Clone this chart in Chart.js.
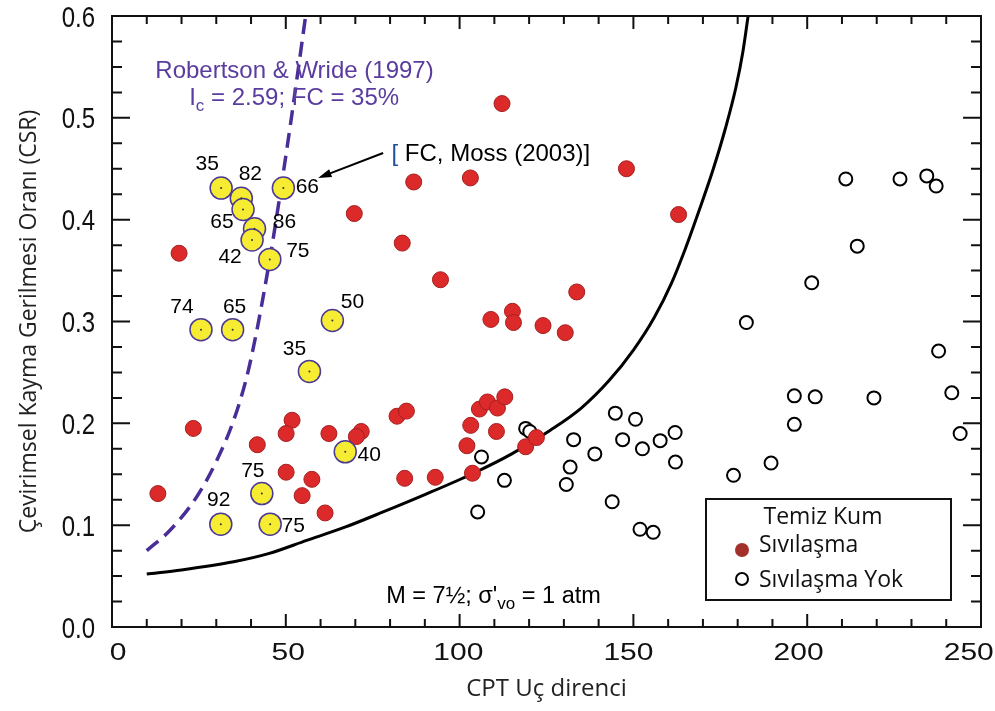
<!DOCTYPE html>
<html>
<head>
<meta charset="utf-8">
<script src="https://cdn.jsdelivr.net/npm/chart.js@4.4.1/dist/chart.umd.min.js"></script>
<style>
  html, body { margin: 0; padding: 0; background: #fff; }
</style>
</head>
<body>
<canvas id="csrChart" width="995" height="711"></canvas>
<script>
// clean sand boundary curve
const boundaryQ   = [10, 20, 35, 45, 56, 67, 78, 90, 104, 115, 126, 135, 143, 150, 156, 161, 165, 169, 173, 176.5, 179.5, 181.5, 183];
const boundaryCSR = [0.052, 0.056, 0.064, 0.072, 0.085, 0.098, 0.113, 0.130, 0.151, 0.170, 0.193, 0.215, 0.242, 0.272, 0.304, 0.338, 0.372, 0.410, 0.450, 0.490, 0.530, 0.565, 0.600];

// Robertson & Wride (1997), Ic = 2.59 dashed curve
const rwQ   = [10, 16.7, 24.4, 30.2, 35.0, 38.8, 41.6, 44.0, 46.4, 48.8, 51.4, 54.0, 55.7];
const rwCSR = [0.075, 0.095, 0.128, 0.164, 0.203, 0.246, 0.290, 0.334, 0.382, 0.435, 0.495, 0.558, 0.600];

// Sıvılaşma (liquefaction) points [qc, CSR]
const liquefied = [
  [112.2, 0.514], [86.8, 0.437], [103.1, 0.441], [69.7, 0.406], [83.5, 0.377], [94.5, 0.341],
  [19.3, 0.367], [148.0, 0.450], [163.0, 0.405], [133.7, 0.329], [115.2, 0.310], [109.0, 0.302],
  [115.5, 0.299], [124.0, 0.296], [130.4, 0.289], [82.0, 0.207], [84.7, 0.212], [84.2, 0.146],
  [93.0, 0.147], [103.7, 0.151], [102.1, 0.178], [103.2, 0.198], [105.7, 0.214], [108.0, 0.221],
  [110.9, 0.215], [113.0, 0.226], [110.6, 0.192], [119.0, 0.177], [122.1, 0.186], [23.4, 0.195],
  [13.2, 0.131], [41.8, 0.179], [51.8, 0.203], [50.1, 0.190], [62.4, 0.190], [71.7, 0.192],
  [70.3, 0.187], [50.1, 0.152], [57.5, 0.145], [54.7, 0.129], [61.3, 0.112]
];

// Sıvılaşma Yok (no liquefaction) points [qc, CSR]
const notLiquefied = [
  [211.1, 0.440], [226.7, 0.440], [234.4, 0.443], [237.1, 0.433], [214.4, 0.374], [201.3, 0.338],
  [182.5, 0.299], [237.8, 0.271], [196.3, 0.227], [202.3, 0.226], [219.2, 0.225], [241.6, 0.230],
  [244.0, 0.190], [196.3, 0.199], [189.6, 0.161], [178.8, 0.149], [144.8, 0.210], [150.6, 0.204],
  [146.9, 0.184], [152.6, 0.175], [157.7, 0.183], [162.0, 0.191], [162.1, 0.162], [132.8, 0.184],
  [138.9, 0.170], [131.8, 0.157], [130.7, 0.140], [143.9, 0.123], [151.9, 0.096], [155.7, 0.093],
  [106.3, 0.167], [112.9, 0.144], [105.2, 0.113], [119.0, 0.195], [120.2, 0.192]
];

// fines content cases (Moss 2003), yellow points
const finesQ   = [31.4, 37.2, 37.7, 41.0, 40.3, 45.4, 49.3, 25.6, 34.7, 63.4, 56.8, 67.1, 43.1, 31.3, 45.5];
const finesCSR = [0.431, 0.421, 0.410, 0.391, 0.380, 0.361, 0.431, 0.292, 0.292, 0.301, 0.251, 0.172, 0.131, 0.101, 0.101];
const finesFC  = ['35', '82', '65', '86', '42', '75', '66', '74', '65', '50', '35', '40', '75', '92', '75'];

const SANS = '"Liberation Sans", Arial, sans-serif';
const UI = '"Open Sans", "Noto Sans", sans-serif';

const toXY = (xs, ys) => xs.map((v, i) => ({ x: v, y: ys[i] }));
const pairs = arr => arr.map(p => ({ x: p[0], y: p[1] }));

// label placement around the yellow points, px
const fcOffsets = [[-14, -24], [9, -24], [-21, 13], [30, -7], [-22, 17], [28, -8], [24, -1],
  [-19, -22], [2, -22], [20, -18], [-15, -22], [24, 3], [-9, -22], [-2, -24], [23, 2]];

function drawRuns(ctx, runs, x, y, align) {
  let total = 0;
  runs.forEach(r => { ctx.font = r.font; total += ctx.measureText(r.t).width; });
  let cx = align === 'center' ? x - total / 2 : x;
  runs.forEach(r => {
    ctx.font = r.font;
    ctx.fillStyle = r.color;
    ctx.fillText(r.t, cx, y + (r.dy || 0));
    cx += ctx.measureText(r.t).width;
  });
}

const decorPlugin = {
  id: 'decor',
  afterDatasetsDraw(chart) {
    const { ctx, chartArea: a, scales: { x, y } } = chart;
    ctx.save();

    // frame and inward ticks
    ctx.strokeStyle = '#111';
    ctx.lineWidth = 2;
    ctx.strokeRect(a.left, a.top, a.right - a.left, a.bottom - a.top);
    ctx.beginPath();
    for (let v = 0; v <= 250; v += 10) {
      const px = x.getPixelForValue(v);
      const len = v % 50 === 0 ? 13 : 8;
      ctx.moveTo(px, a.bottom); ctx.lineTo(px, a.bottom - len);
      ctx.moveTo(px, a.top); ctx.lineTo(px, a.top + len);
    }
    for (let i = 0; i <= 24; i++) {
      const py = y.getPixelForValue(i * 0.025);
      const len = i % 4 === 0 ? 18 : 10;
      ctx.moveTo(a.left, py); ctx.lineTo(a.left + len, py);
      ctx.moveTo(a.right, py); ctx.lineTo(a.right - len, py);
    }
    ctx.stroke();

    // tick labels (condensed look of the original; x labels sit slightly tighter than the ticks)
    ctx.fillStyle = '#111';
    ctx.textBaseline = 'alphabetic';
    ctx.font = '30px ' + SANS;
    x.ticks.forEach(t => {
      const px = a.left + 6 + (x.getPixelForValue(t.value) - a.left) * 0.979;
      ctx.save();
      ctx.translate(px, a.bottom + 33);
      ctx.scale(1, 0.78);
      ctx.textAlign = 'center';
      ctx.fillText(String(t.value), 0, 0);
      ctx.restore();
    });
    y.ticks.forEach(t => {
      ctx.save();
      ctx.translate(a.left - 17, y.getPixelForValue(t.value) + 10.5);
      ctx.scale(0.8, 1);
      ctx.textAlign = 'right';
      ctx.fillText(t.value.toFixed(1), 0, 0);
      ctx.restore();
    });

    // FC labels + small centre dots on yellow points
    ctx.textAlign = 'center';
    ctx.textBaseline = 'middle';
    ctx.font = '21px ' + SANS;
    finesQ.forEach((q, i) => {
      const px = x.getPixelForValue(q);
      const py = y.getPixelForValue(finesCSR[i]);
      ctx.fillStyle = '#333';
      ctx.beginPath(); ctx.arc(px, py, 1, 0, Math.PI * 2); ctx.fill();
      ctx.fillStyle = '#000';
      ctx.fillText(finesFC[i], px + fcOffsets[i][0], py + fcOffsets[i][1]);
    });

    // Robertson & Wride annotation
    ctx.textBaseline = 'alphabetic';
    ctx.textAlign = 'left';
    const purple = '#5a3c9f';
    drawRuns(ctx, [{ t: 'Robertson & Wride (1997)', font: '24px ' + SANS, color: purple }],
      x.getPixelForValue(52.5), y.getPixelForValue(0.539), 'center');
    drawRuns(ctx, [
      { t: 'I', font: '24px ' + SANS, color: purple },
      { t: 'c', font: '17px ' + SANS, color: purple, dy: 6 },
      { t: ' = 2.59; FC = 35%', font: '24px ' + SANS, color: purple }
    ], x.getPixelForValue(52.4), y.getPixelForValue(0.5125), 'center');

    // Moss (2003) note with arrow
    drawRuns(ctx, [
      { t: '[', font: '24px ' + SANS, color: '#1f4f9c' },
      { t: ' FC, Moss (2003)]', font: '24px ' + SANS, color: '#000' }
    ], x.getPixelForValue(80.4), y.getPixelForValue(0.4575), 'left');
    const ax0 = x.getPixelForValue(78.0), ay0 = y.getPixelForValue(0.4655);
    const ax1 = x.getPixelForValue(59.3), ay1 = y.getPixelForValue(0.441);
    ctx.strokeStyle = '#000';
    ctx.lineWidth = 2;
    ctx.beginPath(); ctx.moveTo(ax0, ay0); ctx.lineTo(ax1 + 8, ay1 - 3); ctx.stroke();
    const ang = Math.atan2(ay1 - ay0, ax1 - ax0);
    ctx.fillStyle = '#000';
    ctx.beginPath();
    ctx.moveTo(ax1, ay1);
    ctx.lineTo(ax1 - 14 * Math.cos(ang - 0.3), ay1 - 14 * Math.sin(ang - 0.3));
    ctx.lineTo(ax1 - 14 * Math.cos(ang + 0.3), ay1 - 14 * Math.sin(ang + 0.3));
    ctx.closePath(); ctx.fill();

    // magnitude / stress note
    drawRuns(ctx, [
      { t: 'M = 7\u00BD; \u03C3\'', font: '23.5px ' + SANS, color: '#000' },
      { t: 'vo', font: '17px ' + SANS, color: '#000', dy: 6 },
      { t: ' = 1 atm', font: '23.5px ' + SANS, color: '#000' }
    ], x.getPixelForValue(78.9), y.getPixelForValue(0.0236), 'left');

    // legend box
    const bw = 245, bh = 101;
    const bx = a.right - 30 - bw, by = a.bottom - 27 - bh;
    ctx.fillStyle = '#fff';
    ctx.fillRect(bx, by, bw, bh);
    ctx.strokeStyle = '#111';
    ctx.lineWidth = 2;
    ctx.strokeRect(bx, by, bw, bh);
    ctx.font = '23px ' + UI;
    ctx.fillStyle = '#111';
    ctx.textAlign = 'center';
    ctx.fillText('Temiz Kum', bx + 117, by + 25);
    ctx.textAlign = 'left';
    ctx.fillText('S\u0131v\u0131la\u015Fma', bx + 53, by + 53);
    ctx.fillText('S\u0131v\u0131la\u015Fma Yok', bx + 53, by + 88);
    ctx.fillStyle = '#a3302a';
    ctx.beginPath(); ctx.arc(bx + 36, by + 51, 7, 0, Math.PI * 2); ctx.fill();
    ctx.strokeStyle = '#000';
    ctx.lineWidth = 2;
    ctx.fillStyle = '#fff';
    ctx.beginPath(); ctx.arc(bx + 36, by + 80, 6, 0, Math.PI * 2); ctx.fill(); ctx.stroke();

    ctx.restore();
  }
};

new Chart(document.getElementById('csrChart').getContext('2d'), {
  type: 'scatter',
  data: {
    datasets: [
      {
        label: 'Sınır eğrisi',
        data: toXY(boundaryQ, boundaryCSR),
        showLine: true,
        borderColor: '#000',
        borderWidth: 3,
        pointRadius: 0,
        cubicInterpolationMode: 'monotone',
        order: 5
      },
      {
        label: 'Robertson & Wride (1997)',
        data: toXY(rwQ, rwCSR),
        showLine: true,
        borderColor: '#4a2e98',
        borderWidth: 3.5,
        borderDash: [15, 8],
        pointRadius: 0,
        cubicInterpolationMode: 'monotone',
        order: 5
      },
      {
        label: 'Sıvılaşma Yok',
        data: pairs(notLiquefied),
        pointRadius: 6.5,
        backgroundColor: '#fff',
        borderColor: '#000',
        borderWidth: 2,
        order: 3
      },
      {
        label: 'Sıvılaşma',
        data: pairs(liquefied),
        pointRadius: 8,
        backgroundColor: '#dc2a2b',
        borderColor: '#a51f1f',
        borderWidth: 1,
        order: 2
      },
      {
        label: 'FC (Moss 2003)',
        data: toXY(finesQ, finesCSR),
        pointRadius: 11,
        backgroundColor: '#f6ec31',
        borderColor: '#4b3996',
        borderWidth: 1.5,
        order: 1
      }
    ]
  },
  options: {
    responsive: false,
    animation: false,
    devicePixelRatio: 1,
    layout: { autoPadding: false, padding: { top: 16, right: 14, left: 0, bottom: 0 } },
    plugins: { legend: { display: false }, tooltip: { enabled: false } },
    scales: {
      x: {
        type: 'linear',
        min: 0,
        max: 250,
        afterFit: s => { s.height = 84; },
        grid: { display: false },
        border: { display: false },
        ticks: { stepSize: 50, display: false },
        title: {
          display: true,
          text: 'CPT Uç direnci',
          color: '#222',
          font: { family: UI, size: 24 },
          padding: { top: 0, bottom: 7 }
        }
      },
      y: {
        min: 0,
        max: 0.6,
        afterFit: s => { s.width = 112; },
        grid: { display: false },
        border: { display: false },
        ticks: { stepSize: 0.1, display: false },
        title: {
          display: true,
          text: 'Çevirimsel Kayma Gerilmesi Oranı (CSR)',
          color: '#222',
          font: { family: UI, size: 23 },
          padding: { top: 16, bottom: 0 }
        }
      }
    }
  },
  plugins: [decorPlugin]
});
</script>
</body>
</html>
